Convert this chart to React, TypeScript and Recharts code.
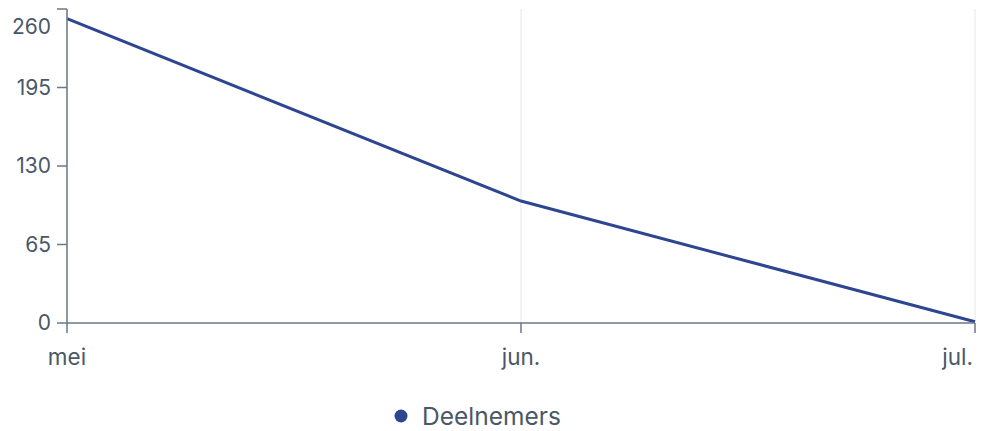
import React from 'react';
import { LineChart, Line, XAxis, YAxis, CartesianGrid, Legend } from 'recharts';

const months = ['mei', 'jun.', 'jul.'];
const deelnemers = [252, 101, 1];
const yTicks = [0, 65, 130, 195, 260];

const data = months.map((m, i) => ({ month: m, value: deelnemers[i] }));

const TEXT = '#4a5767';
const AXIS = '#6b7886';
const LINE = '#2e4690';
const FONT = 'Inter, "Noto Sans", sans-serif';

const XTick = ({ x, y, payload, index }: any) => {
  const last = index === months.length - 1;
  return (
    <text
      x={last ? x - 2 : x}
      y={y + 30}
      textAnchor={last ? 'end' : 'middle'}
      fill={TEXT}
      fontSize={22.5}
      fontFamily={FONT}
    >
      {payload.value}
    </text>
  );
};

const YTick = ({ x, y, payload }: any) => {
  const top = payload.value === yTicks[yTicks.length - 1];
  return (
    <text
      x={x - 4}
      y={top ? y + 18 : y}
      dy={7}
      textAnchor="end"
      fill={TEXT}
      fontSize={21}
      fontFamily={FONT}
    >
      {payload.value}
    </text>
  );
};

const LegendContent = () => (
  <div
    style={{
      display: 'flex',
      justifyContent: 'center',
      alignItems: 'center',
      paddingTop: 21,
      paddingRight: 20,
      height: 24,
    }}
  >
    <svg width={14} height={14} style={{ marginRight: 14 }}>
      <circle cx={7} cy={7} r={6.5} fill={LINE} />
    </svg>
    <span style={{ fontFamily: FONT, fontSize: 24.5, lineHeight: '26px', color: TEXT }}>Deelnemers</span>
  </div>
);

export default function App() {
  return (
    <div style={{ position: 'fixed', left: 0, top: 0, width: 986, height: 431, background: '#fff' }}>
      <LineChart width={986} height={431} data={data} margin={{ top: 9, right: 11, left: 0, bottom: 0 }}>
        <CartesianGrid horizontal={false} vertical stroke="#e6e6e6" strokeWidth={1} />
        <XAxis
          dataKey="month"
          stroke={AXIS}
          strokeWidth={1.5}
          tickSize={10}
          tick={<XTick />}
          height={60}
          interval={0}
        />
        <YAxis
          domain={[0, 260]}
          ticks={yTicks}
          stroke={AXIS}
          strokeWidth={1.5}
          tickSize={10}
          tick={<YTick />}
          width={67}
          interval={0}
        />
        <Legend verticalAlign="bottom" height={48} content={<LegendContent />} />
        <Line
          type="linear"
          dataKey="value"
          name="Deelnemers"
          stroke={LINE}
          strokeWidth={3}
          dot={false}
          activeDot={false}
          isAnimationActive={false}
        />
      </LineChart>
    </div>
  );
}
